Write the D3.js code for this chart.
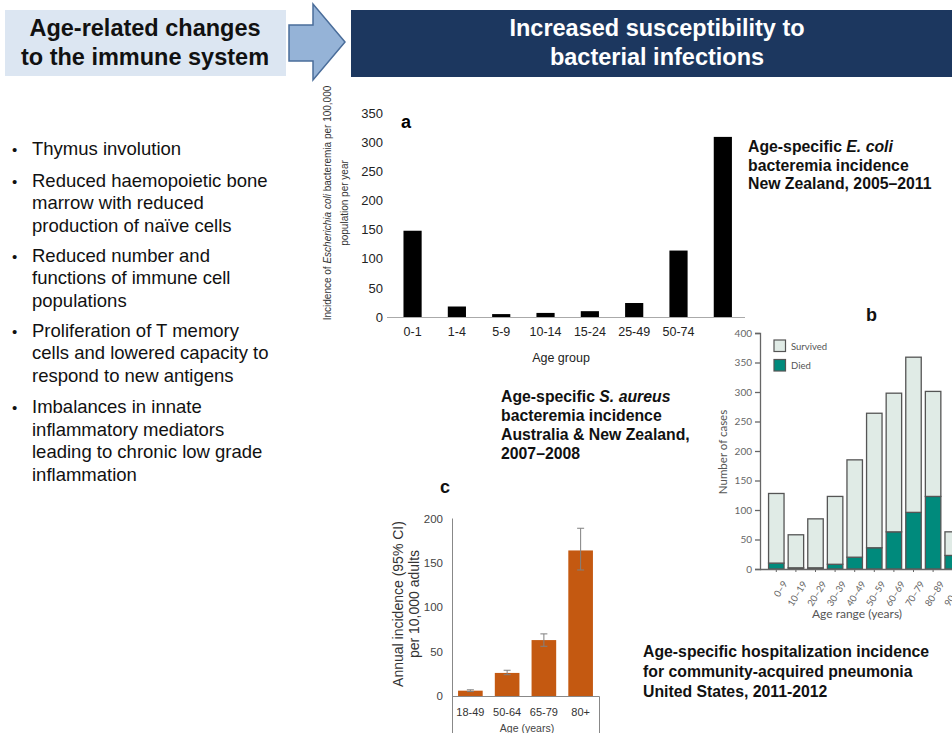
<!DOCTYPE html>
<html><head><meta charset="utf-8">
<script src="https://cdn.jsdelivr.net/npm/d3@7"></script>
<style>
html,body{margin:0;padding:0;background:#fff;overflow:hidden;}
svg{display:block;font-family:"Liberation Sans",Arial,Helvetica,sans-serif;}
</style></head><body>
<svg id="c" width="952" height="733"></svg>
<script>
// ---------- data ----------
const headerLeft = ["Age-related changes", "to the immune system"];
const headerRight = ["Increased susceptibility to", "bacterial infections"];
const bullets = [
  ["Thymus involution"],
  ["Reduced haemopoietic bone", "marrow with reduced", "production of naïve cells"],
  ["Reduced number and", "functions of immune cell", "populations"],
  ["Proliferation of T memory", "cells and lowered capacity to", "respond to new antigens"],
  ["Imbalances in innate", "inflammatory mediators", "leading to chronic low grade", "inflammation"]
];
// chart a: E. coli bacteremia, NZ
const ecoliAges = ["0-1", "1-4", "5-9", "10-14", "15-24", "25-49", "50-74", "75+"];
const ecoliValues = [148, 18, 5, 7, 10, 24, 114, 309];
const ecoliTicks = [0, 50, 100, 150, 200, 250, 300, 350];
// chart b: pneumonia cases by age
const pneuAges = ["0–9", "10–19", "20–29", "30–39", "40–49", "50–59", "60–69", "70–79", "80–89", "90–99"];
const pneuSurvived = [118, 56, 83, 115, 165, 228, 235, 263, 178, 40];
const pneuDied = [10, 2, 2, 8, 20, 36, 63, 96, 123, 23];
const pneuTicks = [0, 50, 100, 150, 200, 250, 300, 350, 400];
const pneuSeries = ["Died", "Survived"];
// chart c: S. aureus / annual incidence
const saAges = ["18-49", "50-64", "65-79", "80+"];
const saValues = [6, 26, 63, 164];
const saLower = [5, 24, 56, 142];
const saUpper = [7, 29, 70, 189];
const saTicks = [0, 50, 100, 150, 200];

const svg = d3.select("#c");

// ---------- header ----------
svg.append("rect").attr("x", 5).attr("y", 10).attr("width", 281).attr("height", 66).attr("fill", "#dce6f2");
svg.append("text").attr("x", 145).attr("font-size", 23.5).attr("font-weight", "bold").attr("fill", "#111")
  .attr("text-anchor", "middle")
  .selectAll("tspan").data(headerLeft).join("tspan").attr("x", 145).attr("y", (d, i) => 36 + i * 29).text(d => d);

svg.append("path")
  .attr("d", "M289,25 L313,25 L313,4 L345,42 L313,80 L313,61 L289,61 Z")
  .attr("fill", "#95b3d7").attr("stroke", "#4a6d9a").attr("stroke-width", 1.5);

svg.append("rect").attr("x", 351).attr("y", 10).attr("width", 601).attr("height", 67).attr("fill", "#1c375f");
svg.append("text").attr("font-size", 23.5).attr("font-weight", "bold").attr("fill", "#fff")
  .attr("text-anchor", "middle")
  .selectAll("tspan").data(headerRight).join("tspan").attr("x", 657).attr("y", (d, i) => 36 + i * 29).text(d => d);

// ---------- bullets ----------
const bulletStarts = [154.5, 186.5, 261.5, 336.5, 413];
const bg = svg.append("g").attr("font-size", 18.5).attr("fill", "#111");
bullets.forEach((lines, bi) => {
  bg.append("text").attr("x", 12).attr("y", bulletStarts[bi]).attr("font-size", 15).text("•");
  bg.append("g").selectAll("text").data(lines).join("text")
    .attr("x", 32).attr("y", (d, i) => bulletStarts[bi] + i * 22.7).text(d => d);
});

// ---------- chart a ----------
const gA = svg.append("g");
const xA = d3.scaleBand().domain(ecoliAges).range([390.4, 745]).paddingInner(0.59).paddingOuter(0.295);
const yA = d3.scaleLinear().domain([0, 350]).range([317, 113]);
gA.selectAll("rect.bar").data(ecoliAges).join("rect").attr("class", "bar")
  .attr("x", d => xA(d)).attr("width", xA.bandwidth())
  .attr("y", (d, i) => yA(ecoliValues[i])).attr("height", (d, i) => yA(0) - yA(ecoliValues[i]))
  .attr("fill", "#000");
const axA = gA.append("g").attr("transform", `translate(0,${yA(0)})`)
  .call(d3.axisBottom(xA).tickValues(ecoliAges.slice(0, 7)).tickSize(0).tickPadding(10));
axA.select(".domain").attr("d", "M387,0.5H745").attr("stroke", "#aaa");
axA.selectAll("text").attr("font-size", 12.5).attr("fill", "#222").attr("font-family", "Liberation Sans, Arial");
const ayA = gA.append("g").attr("transform", "translate(387,0)")
  .call(d3.axisLeft(yA).tickValues(ecoliTicks).tickSize(0).tickPadding(4));
ayA.select(".domain").remove();
ayA.selectAll("text").attr("font-size", 13).attr("fill", "#222").attr("font-family", "Liberation Sans, Arial");
gA.append("text").attr("x", 561).attr("y", 362).attr("text-anchor", "middle").attr("font-size", 12.5).attr("fill", "#222").text("Age group");
const tA = gA.append("text").attr("transform", "translate(331,203) rotate(-90)").attr("text-anchor", "middle")
  .attr("font-size", 10).attr("fill", "#333");
tA.append("tspan").text("Incidence of ");
tA.append("tspan").attr("font-style", "italic").text("Escherichia coli");
tA.append("tspan").text(" bacteremia per 100,000");
gA.append("text").attr("transform", "translate(347.5,203) rotate(-90)").attr("text-anchor", "middle")
  .attr("font-size", 10).attr("fill", "#333").text("population per year");
gA.append("text").attr("x", 401).attr("y", 128).attr("font-size", 18).attr("font-weight", "bold").text("a");

// annotation texts
function boldBlock(x, y0, dy, lines) {
  const t = svg.append("text").attr("font-size", 15.8).attr("font-weight", "bold").attr("fill", "#111");
  lines.forEach((parts, i) => {
    parts.forEach((p, j) => {
      const ts = t.append("tspan").text(p.t);
      if (j === 0) ts.attr("x", x).attr("y", y0 + i * dy);
      if (p.i) ts.attr("font-style", "italic");
    });
  });
}
boldBlock(748, 152, 18.5, [[{t: "Age-specific "}, {t: "E. coli", i: 1}], [{t: "bacteremia incidence"}], [{t: "New Zealand, 2005–2011"}]]);
boldBlock(501, 402, 19, [[{t: "Age-specific "}, {t: "S. aureus", i: 1}], [{t: "bacteremia incidence"}], [{t: "Australia & New Zealand,"}], [{t: "2007–2008"}]]);
boldBlock(643, 657, 20, [[{t: "Age-specific hospitalization incidence"}], [{t: "for community-acquired pneumonia"}], [{t: "United States, 2011-2012"}]]);

// ---------- chart b ----------
const gB = svg.append("g").attr("font-family", "Lato, 'Open Sans', sans-serif");
gB.append("rect").attr("x", 706).attr("y", 323).attr("width", 246).attr("height", 300).attr("fill", "#fff");
const xB = d3.scaleBand().domain(pneuAges).range([766.5, 962.5]).paddingInner(0.21).paddingOuter(0.105);
const yB = d3.scaleLinear().domain([0, 400]).range([569, 333]);
const colB = {Died: "#008a7c", Survived: "#e0ebe6"};
const stackData = pneuAges.map((a, i) => ({age: a, Died: pneuDied[i], Survived: pneuSurvived[i]}));
const stacked = d3.stack().keys(pneuSeries)(stackData);
gB.selectAll("g.layer").data(stacked).join("g").attr("class", "layer").attr("fill", d => colB[d.key])
  .selectAll("rect").data(d => d).join("rect")
  .attr("x", d => xB(d.data.age)).attr("width", xB.bandwidth())
  .attr("y", d => yB(d[1])).attr("height", d => yB(d[0]) - yB(d[1]))
  .attr("stroke", "#555").attr("stroke-width", 1.3);
const ayB = gB.append("g").attr("transform", "translate(760,0)")
  .call(d3.axisLeft(yB).tickValues(pneuTicks).tickSize(5).tickPadding(3));
ayB.select(".domain").attr("stroke", "#666").attr("stroke-width", 1.3);
ayB.selectAll("line").attr("stroke", "#666").attr("stroke-width", 1.3);
ayB.selectAll("text").attr("font-size", 10).attr("fill", "#666").attr("font-family", "Lato, sans-serif");
const axB = gB.append("g").attr("transform", `translate(0,${yB(0)})`)
  .call(d3.axisBottom(xB).tickSize(3).tickPadding(3));
axB.select(".domain").attr("d", "M760,0.5H952").attr("stroke", "#666").attr("stroke-width", 1.3);
axB.selectAll("line").attr("stroke", "#666");
axB.selectAll("text").attr("font-size", 9.5).attr("fill", "#666").attr("font-family", "Lato, sans-serif")
  .attr("text-anchor", "end").attr("dy", "0.3em").attr("transform", "translate(4,10) rotate(-58)");
gB.append("text").attr("x", 857).attr("y", 618).attr("text-anchor", "middle").attr("font-size", 12).attr("fill", "#555").text("Age range (years)");
gB.append("text").attr("transform", "translate(727,452) rotate(-90)").attr("text-anchor", "middle")
  .attr("font-size", 11.5).attr("fill", "#555").text("Number of cases");
const legB = gB.append("g").selectAll("g").data(["Survived", "Died"]).join("g")
  .attr("transform", (d, i) => `translate(774,${340 + i * 19.5})`);
legB.append("rect").attr("width", 11.5).attr("height", 11.5).attr("fill", d => colB[d]).attr("stroke", "#555").attr("stroke-width", 1.2);
legB.append("text").attr("x", 17).attr("y", 9.5).attr("font-size", 9.5).attr("fill", "#555").text(d => d);
gB.append("text").attr("x", 866).attr("y", 321).attr("font-size", 18).attr("font-weight", "bold").attr("fill", "#111")
  .attr("font-family", "Liberation Sans, Arial").text("b");

// ---------- chart c ----------
const gC = svg.append("g");
const xC = d3.scaleBand().domain(saAges).range([452, 599]).paddingInner(0.33).paddingOuter(0.165);
const yC = d3.scaleLinear().domain([0, 200]).range([696, 518.5]);
gC.selectAll("rect.bar").data(saAges).join("rect").attr("class", "bar")
  .attr("x", d => xC(d)).attr("width", xC.bandwidth())
  .attr("y", (d, i) => yC(saValues[i])).attr("height", (d, i) => yC(0) - yC(saValues[i]))
  .attr("fill", "#c45911");
const eb = gC.selectAll("g.err").data(saAges).join("g").attr("class", "err").attr("stroke", "#808080").attr("stroke-width", 1);
eb.append("line").attr("x1", d => xC(d) + xC.bandwidth() / 2).attr("x2", d => xC(d) + xC.bandwidth() / 2)
  .attr("y1", (d, i) => yC(saUpper[i])).attr("y2", (d, i) => yC(saLower[i]));
eb.append("line").attr("x1", d => xC(d) + xC.bandwidth() / 2 - 3.5).attr("x2", d => xC(d) + xC.bandwidth() / 2 + 3.5)
  .attr("y1", (d, i) => yC(saUpper[i])).attr("y2", (d, i) => yC(saUpper[i]));
eb.append("line").attr("x1", d => xC(d) + xC.bandwidth() / 2 - 3.5).attr("x2", d => xC(d) + xC.bandwidth() / 2 + 3.5)
  .attr("y1", (d, i) => yC(saLower[i])).attr("y2", (d, i) => yC(saLower[i]));
const ayC = gC.append("g").attr("transform", "translate(452,0)")
  .call(d3.axisLeft(yC).tickValues(saTicks).tickSize(0).tickPadding(9));
ayC.select(".domain").attr("d", "M0.5,518.5V733").attr("stroke", "#888");
ayC.selectAll("text").attr("font-size", 11.5).attr("fill", "#444");
const axC = gC.append("g").attr("transform", `translate(0,${yC(0)})`)
  .call(d3.axisBottom(xC).tickSize(0).tickPadding(12));
axC.select(".domain").attr("d", "M452,0.5H599.5V37").attr("stroke", "#888");
axC.selectAll("text").attr("font-size", 11).attr("fill", "#333");
gC.append("text").attr("x", 527).attr("y", 732).attr("text-anchor", "middle").attr("font-size", 10.5).attr("fill", "#444").text("Age (years)");
gC.append("text").attr("transform", "translate(403,604) rotate(-90)").attr("text-anchor", "middle")
  .attr("font-size", 14).attr("fill", "#333").text("Annual incidence (95% CI)");
gC.append("text").attr("transform", "translate(419,604) rotate(-90)").attr("text-anchor", "middle")
  .attr("font-size", 14).attr("fill", "#333").text("per 10,000 adults");
gC.append("text").attr("x", 440).attr("y", 493).attr("font-size", 18).attr("font-weight", "bold").attr("fill", "#111").text("c");
</script>
</body></html>
